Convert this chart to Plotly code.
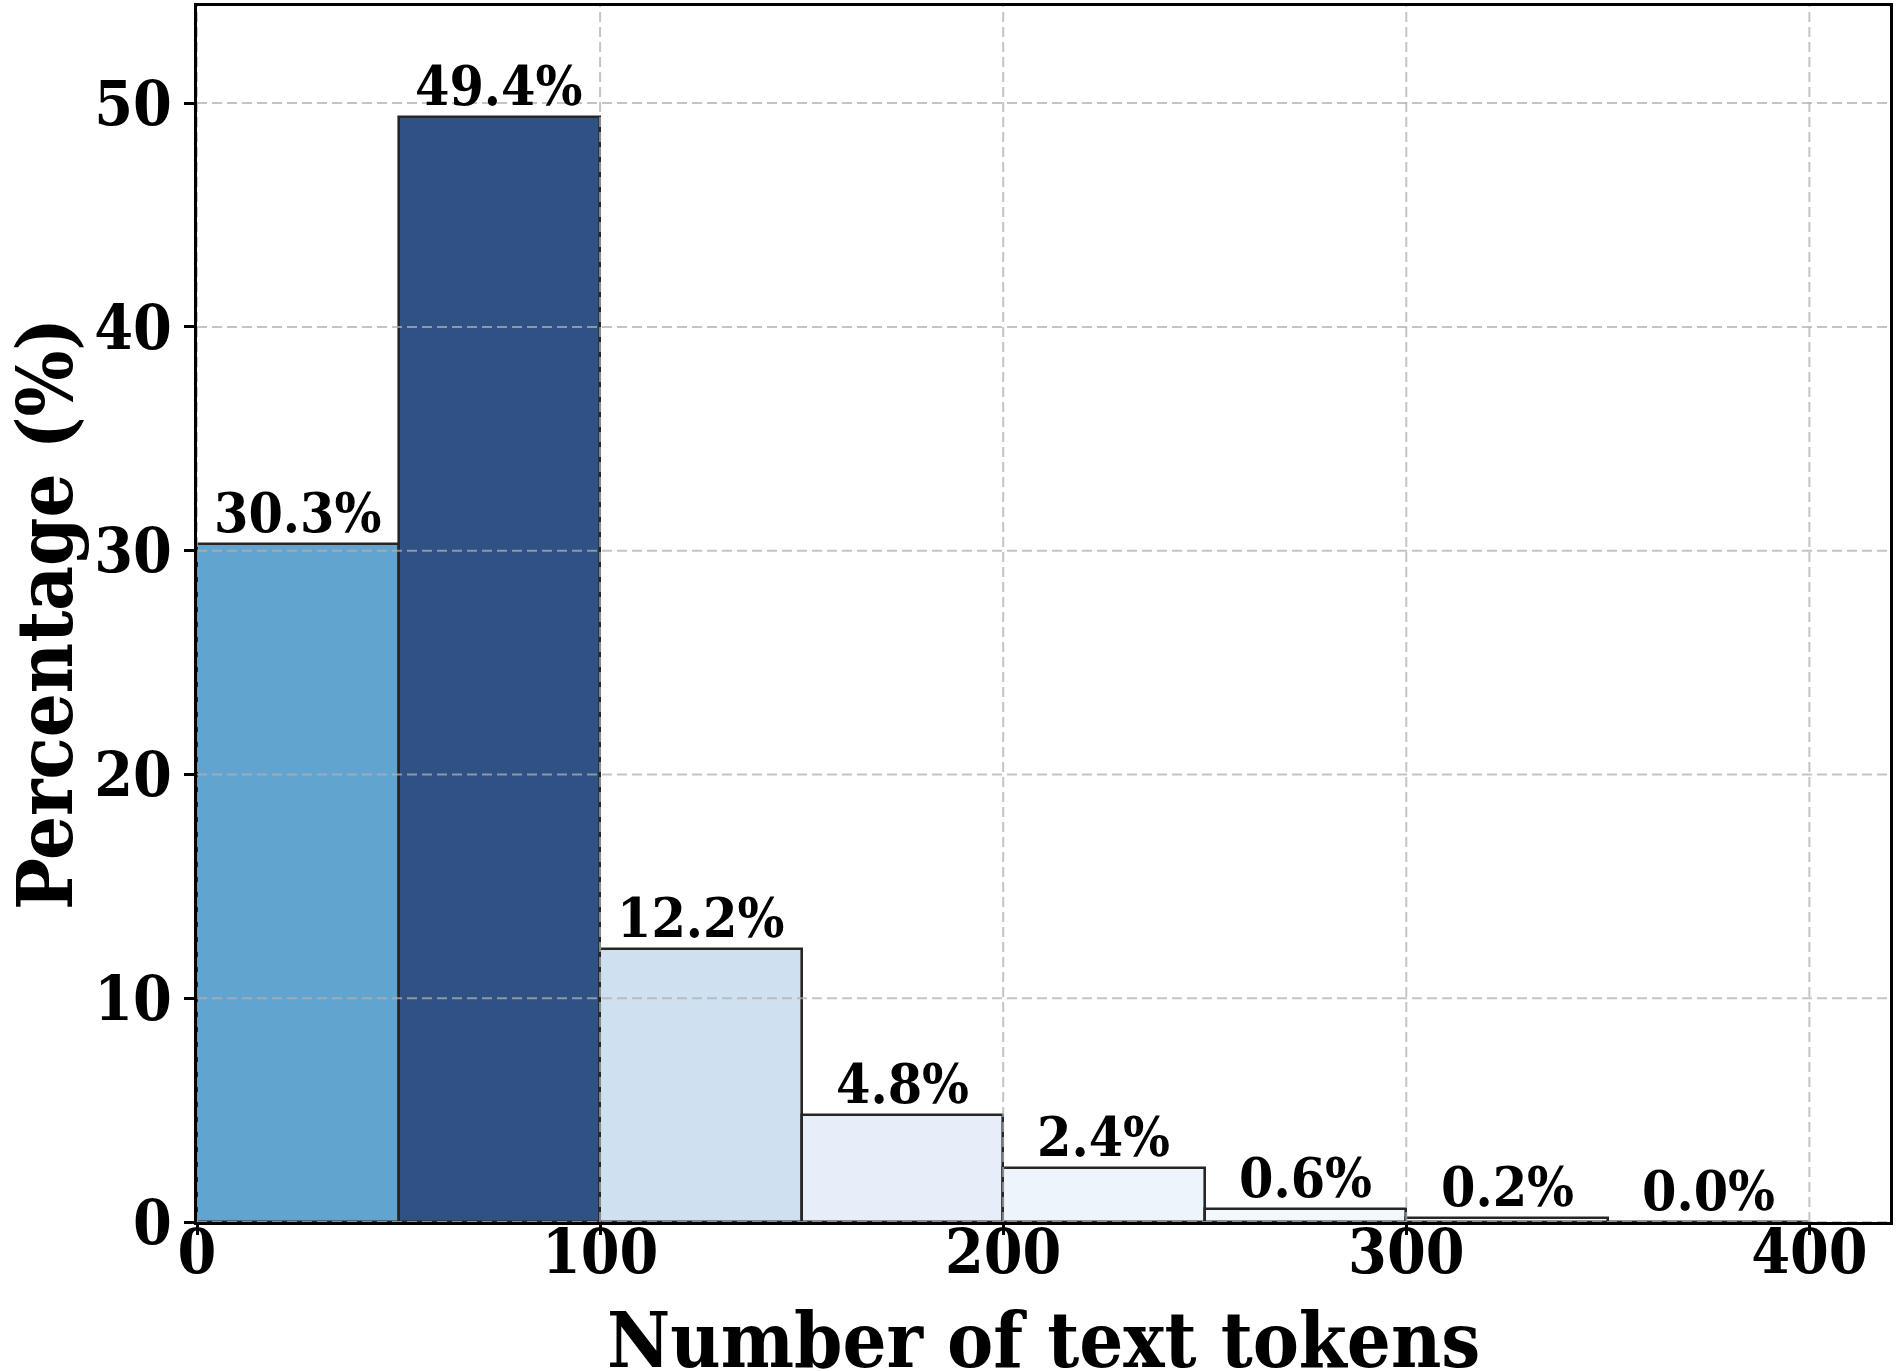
import plotly.graph_objects as go

# Data
bin_starts = [0, 50, 100, 150, 200, 250, 300, 350]
bin_width = 50
percentages = [30.3, 49.4, 12.2, 4.8, 2.4, 0.6, 0.2, 0.0]
bar_labels = ["30.3%", "49.4%", "12.2%", "4.8%", "2.4%", "0.6%", "0.2%", "0.0%"]
x_ticks = [0, 100, 200, 300, 400]
y_ticks = [0, 10, 20, 30, 40, 50]
x_title = "Number of text tokens"
y_title = "Percentage (%)"

# Styles
bar_colors = ["#62a4d0", "#2f5183", "#cfe0f0", "#e6eff9", "#edf4fb", "#f3f8fd", "#f7fbff", "#f7fbff"]
FONT = "DejaVu Serif Condensed, DejaVu Serif"
GRID = "rgba(176,176,176,0.75)"

centers = [s + bin_width / 2 for s in bin_starts]

fig = go.Figure()
fig.add_trace(go.Bar(
    x=centers,
    y=percentages,
    width=[bin_width] * len(bin_starts),
    marker=dict(color=bar_colors, line=dict(color="#262626", width=2.6)),
    showlegend=False,
    hoverinfo="skip",
))

# bar value labels
for c, v, t in zip(centers, percentages, bar_labels):
    fig.add_annotation(x=c, y=v, text="<b>%s</b>" % t, showarrow=False,
                       yanchor="bottom", xanchor="center", yshift=-3,
                       font=dict(family=FONT, size=55, color="black"))

# x-axis title (placed as annotation so it can sit at the very bottom edge)
fig.add_annotation(x=0.5, xref="paper", y=0, yref="paper", text="<b>%s</b>" % x_title,
                   showarrow=False, xanchor="center", yanchor="top", yshift=-71,
                   font=dict(family=FONT, size=77, color="black"))

# gridlines drawn above the bars (as in the reference)
for xv in x_ticks:
    fig.add_shape(type="line", xref="x", yref="paper", x0=xv, x1=xv, y0=0, y1=1,
                  line=dict(color=GRID, width=2, dash="10px,5px"), layer="above")
for yv in y_ticks:
    fig.add_shape(type="line", xref="paper", yref="y", x0=0, x1=1, y0=yv, y1=yv,
                  line=dict(color=GRID, width=2, dash="10px,5px"), layer="above")

fig.update_layout(
    width=1903, height=1371,
    margin=dict(l=197, r=13, t=6, b=149, autoexpand=False),
    paper_bgcolor="white", plot_bgcolor="white",
    font=dict(family=FONT, color="black"),
    bargap=0,
)
fig.update_xaxes(
    range=[0, 420], tickvals=x_ticks, ticktext=["<b>%d</b>" % v for v in x_ticks],
    tickfont=dict(family=FONT, size=62, color="black"),
    ticks="outside", ticklen=10, tickwidth=2.5, tickcolor="black",
    ticklabelstandoff=-36,
    showline=True, linecolor="black", linewidth=2.5, mirror=True,
    showgrid=False, zeroline=False, automargin=False,
)
fig.update_yaxes(
    range=[0, 54.34], tickvals=y_ticks, ticktext=["<b>%d</b>" % v for v in y_ticks],
    tickfont=dict(family=FONT, size=62, color="black"),
    ticks="outside", ticklen=10, tickwidth=2.5, tickcolor="black",
    showline=True, linecolor="black", linewidth=2.5, mirror=True,
    showgrid=False, zeroline=False, automargin=False,
    title=dict(text="<b>%s</b>" % y_title, font=dict(family=FONT, size=77, color="black"), standoff=19),
)

fig.write_html("out.html", config={"displayModeBar": False},
               post_script="document.body.style.margin='0';document.body.style.overflow='hidden';")
